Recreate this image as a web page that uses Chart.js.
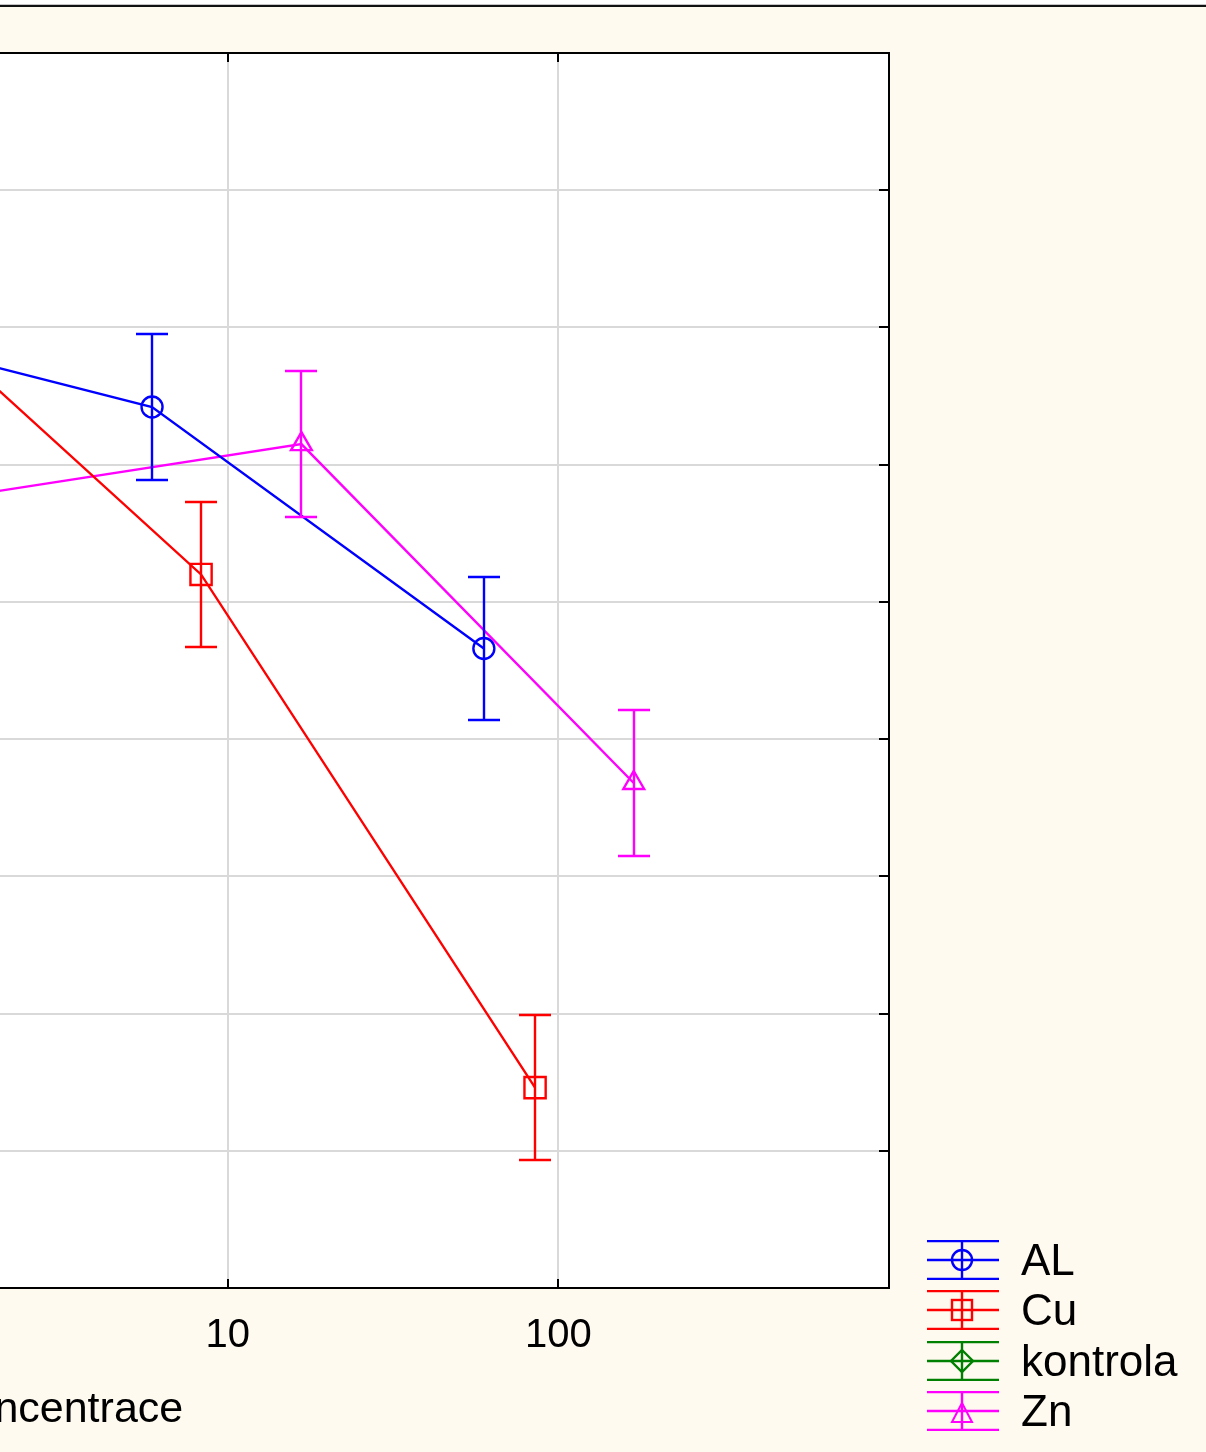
<!DOCTYPE html>
<html>
<head>
<meta charset="utf-8">
<script src="https://cdn.jsdelivr.net/npm/chart.js@4/dist/chart.umd.min.js"></script>
<style>
html,body{margin:0;padding:0;background:#fff;width:1206px;height:1452px;overflow:hidden;font-family:"Liberation Sans",Arial,sans-serif}
#topgray{position:absolute;left:0;top:4px;width:1206px;height:1px;background:#c4c4c4}
#frame{position:absolute;left:0;top:5px;width:1206px;height:1447px;background:#fffaf0;border-top:2px solid #111;box-sizing:border-box}
#wrap{position:absolute;left:-900px;top:0;width:2106px;height:1452px}
.row{position:absolute;left:927px;height:40px;width:279px}
.row svg{position:absolute;left:0;top:0}
.row span{position:absolute;left:94px;top:0px;line-height:40px;font-size:44px;color:#000;white-space:nowrap}
</style>
</head>
<body>
<div id="topgray"></div>
<div id="frame"></div>
<div id="wrap"><canvas id="c"></canvas></div>
<div id="legend"></div>
<script>
// concentrations (log axis) and means with error half-widths
var alX = [0.6, 5.9, 59.5];
var alY = [70.3, 64.2, 46.6];
var alErr = [5.3, 5.3, 5.2];

var cuX = [0.85, 8.3, 85];
var cuY = [73.7, 52.0, 14.6];
var cuErr = [5.3, 5.3, 5.3];

var kontrolaX = [0.02];
var kontrolaY = [75.0];
var kontrolaErr = [5.3];

var znX = [1.7, 16.7, 169];
var znY = [57.8, 61.5, 36.8];
var znErr = [5.3, 5.3, 5.3];

var xTicks = [0.1, 1, 10, 100];
var seriesNames = ['AL', 'Cu', 'kontrola', 'Zn'];

(function(){
  function pts(xs, ys){ return xs.map(function(x,i){ return {x:x, y:ys[i]} }) }
  function fmtTick(v){ return String(v).replace('.', ',') }

  var colors = {AL:'#0000ff', Cu:'#ff0000', kontrola:'#008000', Zn:'#ff00ff'};
  var styles = {AL:'circle', Cu:'rect', kontrola:'rectRot', Zn:'triangle'};
  var radii = {AL:10.5, Cu:15, kontrola:11, Zn:12};
  var src = {
    AL:[alX, alY, alErr], Cu:[cuX, cuY, cuErr],
    kontrola:[kontrolaX, kontrolaY, kontrolaErr], Zn:[znX, znY, znErr]
  };

  var datasets = seriesNames.map(function(n){
    return {
      label:n, data:pts(src[n][0], src[n][1]), err:src[n][2],
      borderColor:colors[n], backgroundColor:'rgba(0,0,0,0)', borderWidth:2.4, tension:0,
      pointStyle:styles[n], pointRadius:radii[n], pointBorderWidth:2.4,
      pointBorderColor:colors[n], pointBackgroundColor:'rgba(0,0,0,0)'
    };
  });

  var plotBg = { id:'plotBg', beforeDraw:function(c){
    var a = c.chartArea, ctx = c.ctx;
    ctx.save(); ctx.fillStyle = '#fff';
    ctx.fillRect(a.left, a.top, a.right-a.left, a.bottom-a.top);
    ctx.restore();
  }};

  var errBars = { id:'errBars', afterDatasetsDraw:function(c){
    var ctx = c.ctx, a = c.chartArea, xs = c.scales.x, ys = c.scales.y;
    ctx.save();
    ctx.beginPath(); ctx.rect(a.left, a.top, a.right-a.left, a.bottom-a.top); ctx.clip();
    c.data.datasets.forEach(function(ds){
      ctx.strokeStyle = ds.borderColor; ctx.lineWidth = 2.4;
      ds.data.forEach(function(p, i){
        var px = Math.round(xs.getPixelForValue(p.x));
        var hi = Math.round(ys.getPixelForValue(p.y + ds.err[i]));
        var lo = Math.round(ys.getPixelForValue(p.y - ds.err[i]));
        ctx.beginPath();
        ctx.moveTo(px, hi); ctx.lineTo(px, lo);
        ctx.moveTo(px-16, hi); ctx.lineTo(px+16, hi);
        ctx.moveTo(px-16, lo); ctx.lineTo(px+16, lo);
        ctx.stroke();
      });
    });
    ctx.restore();
  }};

  var frame = { id:'frame', afterDraw:function(c){
    var ctx = c.ctx, a = c.chartArea, xs = c.scales.x, ys = c.scales.y;
    ctx.save();
    ctx.strokeStyle = '#000'; ctx.lineWidth = 2;
    ctx.strokeRect(a.left, a.top, a.right-a.left, a.bottom-a.top);
    ctx.beginPath();
    xs.ticks.forEach(function(t){
      var px = Math.round(xs.getPixelForValue(t.value));
      ctx.moveTo(px, a.top); ctx.lineTo(px, a.top+9);
      ctx.moveTo(px, a.bottom); ctx.lineTo(px, a.bottom-9);
    });
    ys.ticks.forEach(function(t){
      if(t.value <= ys.min || t.value >= ys.max) return;
      var py = Math.round(ys.getPixelForValue(t.value));
      ctx.moveTo(a.right, py); ctx.lineTo(a.right-10, py);
      ctx.moveTo(a.left, py); ctx.lineTo(a.left+10, py);
    });
    ctx.stroke();
    ctx.restore();
  }};

  Chart.defaults.font.family = '"Liberation Sans", Arial, sans-serif';

  new Chart(document.getElementById('c').getContext('2d'), {
    type:'line',
    data:{ datasets:datasets },
    plugins:[plotBg, errBars, frame],
    options:{
      responsive:true, maintainAspectRatio:false, animation:false,
      layout:{ padding:{ left:0, right:317, top:53, bottom:0 } },
      plugins:{ legend:{display:false}, tooltip:{enabled:false} },
      scales:{
        x:{
          type:'logarithmic', min:0.01, max:1000,
          afterBuildTicks:function(s){ s.ticks = xTicks.map(function(v){ return {value:v} }) },
          afterFit:function(s){ s.height = 164 },
          grid:{ color:'#d9d9d9', lineWidth:2, drawTicks:false },
          border:{ display:false },
          ticks:{ padding:24, color:'#000', font:{size:40}, maxRotation:0, autoSkip:false,
                  callback:function(v){ return fmtTick(v) } },
          title:{ display:true, text:'Koncentrace', color:'#000', font:{size:43}, padding:{top:0, bottom:16} }
        },
        y:{
          min:0, max:90,
          afterFit:function(s){ s.width = 136 },
          grid:{ color:'#d9d9d9', lineWidth:2, drawTicks:false },
          border:{ display:false },
          ticks:{ stepSize:10, color:'#000', font:{size:40}, padding:10 }
        }
      }
    }
  });

  // legend, drawn as page elements to the right of the plot
  var markers = {
    AL:function(c){ return '<circle cx="35" cy="20" r="10" fill="none" stroke="'+c+'" stroke-width="2.4"/>' },
    Cu:function(c){ return '<rect x="25" y="10" width="20" height="20" fill="none" stroke="'+c+'" stroke-width="2.4"/>' },
    kontrola:function(c){ return '<polygon points="35,9 46,20 35,31 24,20" fill="none" stroke="'+c+'" stroke-width="2.4"/>' },
    Zn:function(c){ return '<polygon points="35,12 45,31 25,31" fill="none" stroke="'+c+'" stroke-width="2"/>' }
  };
  var rowTops = [1240, 1290, 1341, 1391];
  var leg = document.getElementById('legend');
  seriesNames.forEach(function(n, i){
    var c = colors[n];
    var row = document.createElement('div'); row.className = 'row'; row.style.top = rowTops[i]+'px';
    row.innerHTML = '<svg width="72" height="40" viewBox="0 0 72 40">'+
      '<line x1="0" y1="1" x2="72" y2="1" stroke="'+c+'" stroke-width="2.4"/>'+
      '<line x1="0" y1="20" x2="72" y2="20" stroke="'+c+'" stroke-width="2.4"/>'+
      '<line x1="0" y1="39" x2="72" y2="39" stroke="'+c+'" stroke-width="2.4"/>'+
      '<line x1="35" y1="1" x2="35" y2="39" stroke="'+c+'" stroke-width="2.4"/>'+
      markers[n](c)+'</svg><span>'+n+'</span>';
    leg.appendChild(row);
  });
})();
</script>
</body>
</html>
